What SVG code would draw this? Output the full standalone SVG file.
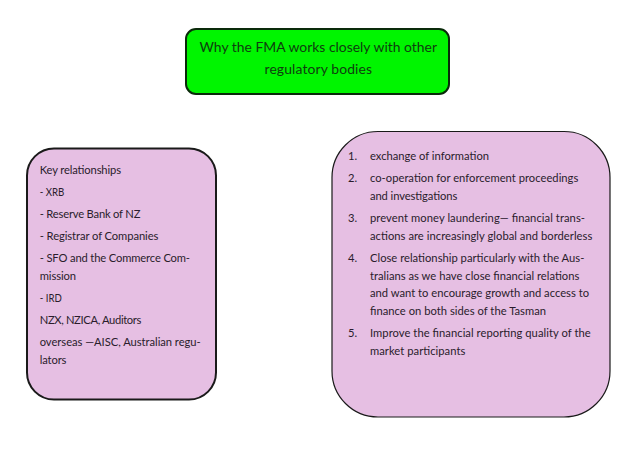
<svg xmlns="http://www.w3.org/2000/svg" width="638" height="452" viewBox="0 0 638 452">
<style>
text{font-family:"Lato","Carlito","Liberation Sans",sans-serif;font-size:11.2px;fill:#2a1c2c}
.box{fill:#e6bfe3;stroke:#1a1a1a;stroke-width:1.2}
.t{font-size:13.900px;fill:#0f3d0f}
</style>
<rect width="638" height="452" fill="#fff"/>
<g id="title"><rect x="186" y="29" width="263" height="65" rx="10" fill="#00f500" stroke="#0a2a0a" stroke-width="2"/>
<text class="t" x="199.500" y="51.500" textLength="237.500">Why the FMA works closely with other</text>
<text class="t" x="264.500" y="73.500" textLength="107.500">regulatory bodies</text></g>
<g id="left"><rect class="box" x="27" y="148.500" width="189" height="251" rx="27" style="stroke-width:2"/>
<text x="39.700" y="174" textLength="81.300">Key relationships</text>
<text x="39.700" y="196" textLength="24.700" lengthAdjust="spacingAndGlyphs">- XRB</text>
<text x="39.700" y="218" textLength="100.700">- Reserve Bank of NZ</text>
<text x="39.700" y="240" textLength="118.700">- Registrar of Companies</text>
<text x="39.700" y="262" textLength="150.300">- SFO and the Commerce Com-</text>
<text x="39.700" y="280" textLength="36.300">mission</text>
<text x="39.700" y="302" textLength="22" lengthAdjust="spacingAndGlyphs">- IRD</text>
<text x="39.700" y="324" textLength="101.700">NZX, NZICA, Auditors</text>
<text x="39.700" y="346" textLength="161">overseas —AISC, Australian regu-</text>
<text x="39.700" y="364" textLength="26.700">lators</text></g>
<g id="right"><rect class="box" x="332" y="131.500" width="278" height="285.500" rx="46"/>
<text x="348" y="159.700">1.</text><text x="370" y="159.700" textLength="119">exchange of information</text>
<text x="348" y="181.700">2.</text><text x="370" y="181.700" textLength="208.300">co-operation for enforcement proceedings</text>
<text x="370" y="199.700" textLength="87.300">and investigations</text>
<text x="348" y="221.700">3.</text><text x="370" y="221.700" textLength="215">prevent money laundering— financial trans-</text>
<text x="370" y="239.700" textLength="222.300">actions are increasingly global and borderless</text>
<text x="348" y="261.700">4.</text><text x="370" y="261.700" textLength="214.300">Close relationship particularly with the Aus-</text>
<text x="370" y="279.700" textLength="209.300">tralians as we have close financial relations</text>
<text x="370" y="297.200" textLength="219">and want to encourage growth and access to</text>
<text x="370" y="315.200" textLength="176">finance on both sides of the Tasman</text>
<text x="348" y="337.200">5.</text><text x="370" y="337.200" textLength="220.700">Improve the financial reporting quality of the</text>
<text x="370" y="355.200" textLength="95.300">market participants</text></g>
<g id="connectors"/>
</svg>
